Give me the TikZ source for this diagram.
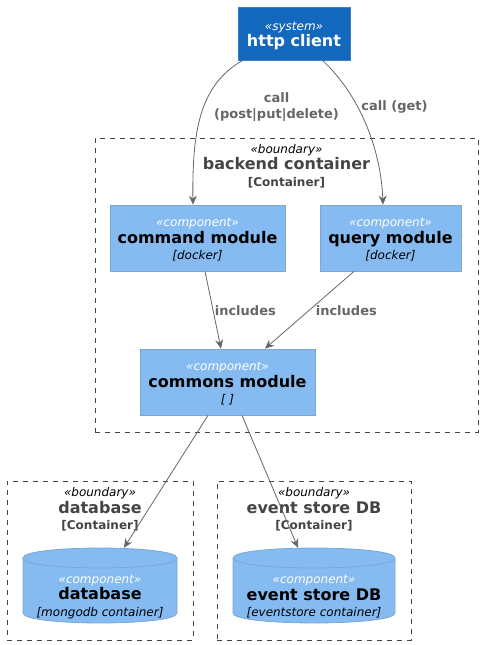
\documentclass[tikz,border=0pt]{standalone}
\usepackage{fontspec}
\setmainfont{DejaVu Sans}
\usetikzlibrary{arrows.meta}
\definecolor{sysfill}{HTML}{1168BD}
\definecolor{sysline}{HTML}{3C7FC0}
\definecolor{compfill}{HTML}{85BBF0}
\definecolor{compline}{HTML}{78A8D8}
\definecolor{arrowc}{HTML}{666666}
\definecolor{bound}{HTML}{444444}
\newcommand\stereo[1]{{\fontsize{12}{16.7}\selectfont\itshape «#1»}}
\newcommand\cname[1]{{\fontsize{16}{16.7}\selectfont\bfseries #1}}
\newcommand\ctech[1]{{\fontsize{12}{16.7}\selectfont\itshape [#1]}}
\newcommand\btech[1]{{\fontsize{12}{16.7}\selectfont\bfseries [#1]}}
\newcommand\drawcyl[2]{%
  \path[draw=compline, fill=compfill, line width=0.8pt] (#1,558) -- (#1,613)
    .. controls (#1,626.3) and (#2,626.3) .. (#2,613) -- (#2,558)
    .. controls (#2,544.7) and (#1,544.7) .. (#1,558) -- cycle;
  \draw[compline, line width=0.8pt] (#1,558) .. controls (#1,571.3) and (#2,571.3) .. (#2,558);}
\tikzset{
  comp/.style={draw=compline, fill=compfill, line width=0.8pt, inner sep=0pt},
  sys/.style={draw=sysline, fill=sysfill, line width=0.8pt, inner sep=0pt},
  boxtext/.style={align=center, inner sep=0pt, text=black, font=\fontsize{12}{16.5}\selectfont},
  bnd/.style={draw=bound, dash pattern=on 5pt off 5pt, line width=0.8pt, inner sep=0pt},
  blabel/.style={align=center, inner sep=0pt, text=bound, font=\fontsize{12}{16.5}\selectfont},
  rel/.style={draw=arrowc, line width=0.8pt, -{Stealth[length=9pt,width=8pt,inset=3pt]}},
  lbl/.style={text=arrowc, font=\fontsize{13}{16}\selectfont\bfseries, align=center, inner sep=0pt}
}
\begin{document}
\begin{tikzpicture}[x=1pt,y=-1pt]
\useasboundingbox (0,0) rectangle (483,645);
% boundaries
\node[bnd, minimum width=383, minimum height=294] (backend) at (286.5,285) {};
\node[bnd, minimum width=186, minimum height=159] (dbb) at (100,560.5) {};
\node[bnd, minimum width=194, minimum height=159] (esb) at (314,560.5) {};
\node[blabel] (backendlbl) at (286.5,166) {{\color{black}\stereo{boundary}}\\\cname{backend container}\\\btech{Container}};
\node[blabel] (dbblbl) at (100,509.5) {{\color{black}\stereo{boundary}}\\\cname{database}\\\btech{Container}};
\node[blabel] (esblbl) at (314,509.5) {{\color{black}\stereo{boundary}}\\\cname{event store DB}\\\btech{Container}};
% system
\node[sys, minimum width=112, minimum height=53] (client) at (294,33.5) {};
\node[boxtext, text=white] (clienttext) at (294,36) {\stereo{system}\\\cname{http client}};
% components
\node[comp, minimum width=175, minimum height=66] (cmd) at (197.5,238) {};
\node[boxtext] (cmdtext) at (197.5,240) {{\color{white}\stereo{component}}\\\cname{command module}\\\ctech{docker}};
\node[comp, minimum width=141, minimum height=66] (query) at (390.5,238) {};
\node[boxtext] (querytext) at (390.5,240) {{\color{white}\stereo{component}}\\\cname{query module}\\\ctech{docker}};
\node[comp, minimum width=175, minimum height=66] (commons) at (227.5,382) {};
\node[boxtext] (commonstext) at (227.5,384) {{\color{white}\stereo{component}}\\\cname{commons module}\\\ctech{\ }};
% cylinders
\node[minimum width=154, minimum height=75, inner sep=0pt] (db) at (100,585.5) {};
\node[minimum width=162, minimum height=75, inner sep=0pt] (es) at (314,585.5) {};
\drawcyl{23}{177}
\drawcyl{233}{395}
\node[boxtext] (dbtext) at (100,597) {{\color{white}\stereo{component}}\\\cname{database}\\\ctech{mongodb container}};
\node[boxtext] (estext) at (314,597) {{\color{white}\stereo{component}}\\\cname{event store DB}\\\ctech{eventstore container}};
% relations
\draw[rel] ([xshift=5pt]client.south west) .. controls (200,85) and (192,130) .. ([xshift=-4.5pt]cmd.north);
\draw[rel] ([xshift=-28pt]client.south east) .. controls (360,95) and (381,150) .. ([xshift=-7.5pt]query.north);
\draw[rel] ([xshift=7.5pt]cmd.south) -- ([xshift=-6.5pt]commons.north);
\draw[rel] ([xshift=-36.5pt]query.south) -- ([xshift=37.5pt]commons.north);
\draw[rel] ([xshift=-19.5pt]commons.south) -- ([xshift=24pt]db.north);
\draw[rel] ([xshift=14.5pt]commons.south) -- ([xshift=-16pt]es.north);
% labels
\node[lbl] (l1) at (276.5,107) {call\\(post|put|delete)};
\node[lbl] (l2) at (394.5,107) {call (get)};
\node[lbl] (l3) at (245.3,311) {includes};
\node[lbl] (l4) at (346.3,311) {includes};
\end{tikzpicture}
\end{document}
